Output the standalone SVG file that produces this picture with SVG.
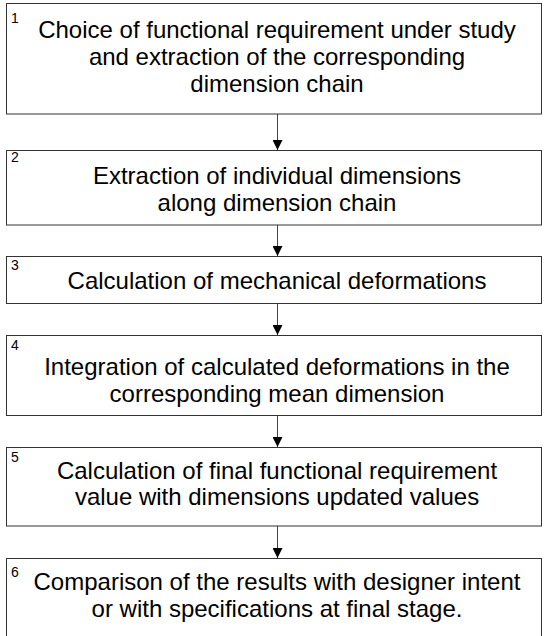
<svg xmlns="http://www.w3.org/2000/svg" width="544" height="636" viewBox="0 0 544 636">
<style>
.box{fill:#fff;stroke:#333;stroke-width:1}
.t{font-family:"Liberation Sans",Arial,sans-serif;font-size:24px;fill:#000;text-anchor:middle}
.n{font-family:"Liberation Sans",Arial,sans-serif;font-size:14px;fill:#000}
.c{stroke:#444;stroke-width:1;fill:none}
</style>
<defs>
<marker id="ah" viewBox="0 0 10 10" refX="10" refY="5" markerWidth="10" markerHeight="10" orient="auto" markerUnits="userSpaceOnUse">
<path d="M0,0 L10,5 L0,10 z" fill="#000"/>
</marker>
</defs>
<rect width="544" height="636" fill="#fff"/>
<g id="connectors">
<line class="c" x1="277.5" y1="114" x2="277.5" y2="150" marker-end="url(#ah)"/>
<line class="c" x1="277.5" y1="225" x2="277.5" y2="256" marker-end="url(#ah)"/>
<line class="c" x1="277.5" y1="304" x2="277.5" y2="335" marker-end="url(#ah)"/>
<line class="c" x1="277.5" y1="416" x2="277.5" y2="447" marker-end="url(#ah)"/>
<line class="c" x1="277.5" y1="526" x2="277.5" y2="558" marker-end="url(#ah)"/>
</g>
<g id="step1">
<rect class="box" x="6.5" y="3.5" width="535" height="110.5"/>
<text class="n" x="11" y="23">1</text>
<text class="t" x="277" y="38">Choice of functional requirement under study</text>
<text class="t" x="277" y="65">and extraction of the corresponding</text>
<text class="t" x="277" y="92">dimension chain</text>
</g>
<g id="step2">
<rect class="box" x="6.5" y="150.5" width="535" height="74.5"/>
<text class="n" x="11" y="162">2</text>
<text class="t" x="277" y="184">Extraction of individual dimensions</text>
<text class="t" x="277" y="211">along dimension chain</text>
</g>
<g id="step3">
<rect class="box" x="6.5" y="256.5" width="535" height="47"/>
<text class="n" x="11" y="270">3</text>
<text class="t" x="277" y="289">Calculation of mechanical deformations</text>
</g>
<g id="step4">
<rect class="box" x="6.5" y="335.5" width="535" height="80"/>
<text class="n" x="11" y="350">4</text>
<text class="t" x="277" y="375">Integration of calculated deformations in the</text>
<text class="t" x="277" y="402">corresponding mean dimension</text>
</g>
<g id="step5">
<rect class="box" x="6.5" y="447.5" width="535" height="78.5"/>
<text class="n" x="11" y="462">5</text>
<text class="t" x="277" y="479">Calculation of final functional requirement</text>
<text class="t" x="277" y="505">value with dimensions updated values</text>
</g>
<g id="step6">
<rect class="box" x="6.5" y="558.5" width="535" height="90"/>
<text class="n" x="11" y="577">6</text>
<text class="t" x="277" y="590">Comparison of the results with designer intent</text>
<text class="t" x="277" y="617">or with specifications at final stage.</text>
</g>
</svg>
